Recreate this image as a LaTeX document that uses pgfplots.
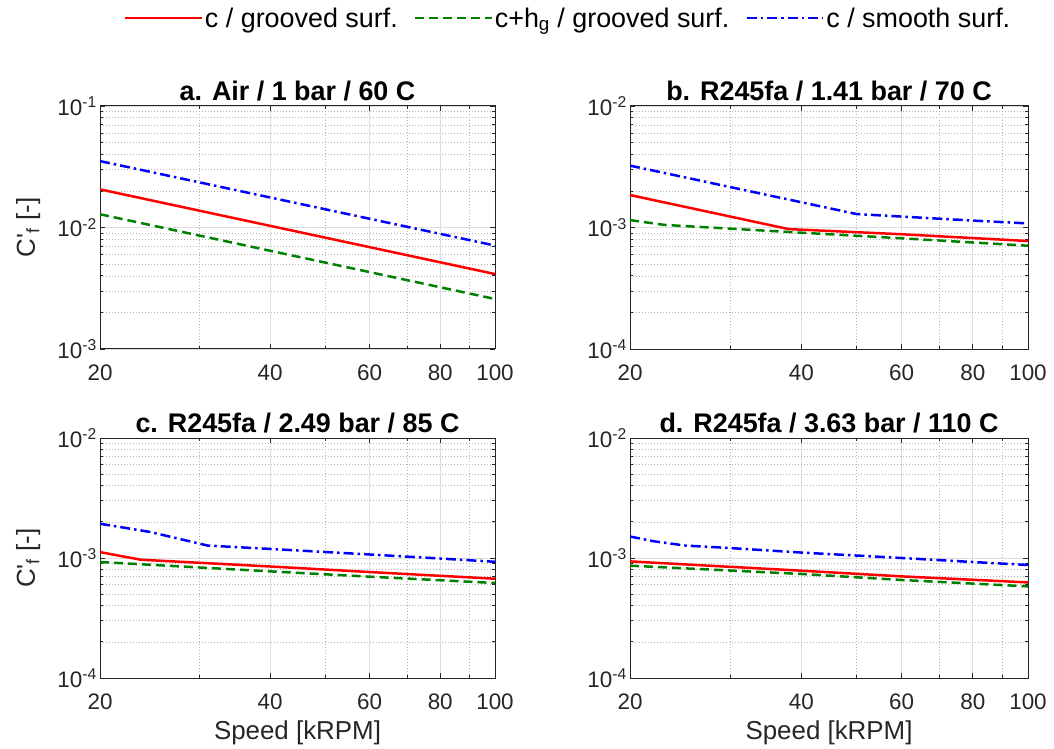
\documentclass[border=0pt]{standalone}
\usepackage{fontspec}
\setmainfont{Liberation Sans}
\usepackage{pgfplots}
\pgfplotsset{compat=1.18}
\definecolor{axgray}{HTML}{262626}
\definecolor{mgreen}{rgb}{0,0.5,0}
\pgfplotsset{every axis/.append style={
    scale only axis,
    xmin=20, xmax=100,
    xtick={20,40,60,80,100}, xticklabels={20,40,60,80,100},
    minor xtick={30,50,70,90},
    grid=both,
    major grid style={black!13, line width=0.8bp},
    minor grid style={black!30, line width=0.6bp, dash pattern=on 0.8bp off 2.2bp},
    axis line style={axgray, line width=1bp},
    tick style={axgray, line width=0.8bp},
    major tick length=5bp, minor tick length=3bp,
    tick align=inside,
    ticklabel style={font=\fontsize{22.5}{24}\selectfont, text=axgray, inner sep=0pt},
    xticklabel style={anchor=base, yshift=-31bp},
    yticklabel style={anchor=east, xshift=-3bp},
    title style={font=\fontsize{27}{30}\selectfont\bfseries, anchor=base, yshift=0bp, inner sep=0pt},
    label style={font=\fontsize{26}{28}\selectfont, text=axgray, inner sep=0pt},
    xlabel style={at={(axis description cs:0.5,-0.258)}, anchor=base},
    ylabel style={at={(axis description cs:-0.165,0.5)}, anchor=base},
}}
\tikzset{
  sred/.style={red, line width=2.5bp, solid},
  sgreen/.style={mgreen, line width=2.5bp, dash pattern=on 9bp off 5bp},
  sblue/.style={blue, line width=2.5bp, dash pattern=on 10bp off 4bp on 2.5bp off 4bp},
}
\begin{document}
\begin{tikzpicture}
\path[use as bounding box] (0,0) rectangle (1054bp,749bp);

% ---------- a ----------
\begin{loglogaxis}[at={(100bp,400bp)}, anchor=south west,
  width=395bp, height=243bp,
  ymin=1e-3, ymax=1e-1, ytick={1e-3,1e-2,1e-1},
  yticklabels={10\textsuperscript{-3},10\textsuperscript{-2},10\textsuperscript{-1}},
  minor ytick={2e-3,3e-3,4e-3,5e-3,6e-3,7e-3,8e-3,9e-3,2e-2,3e-2,4e-2,5e-2,6e-2,7e-2,8e-2,9e-2},
  title={a. Air / 1 bar / 60 C},
  ylabel={C\textquotesingle\textsubscript{f} [-]},
  legend style={at={(1.185,1.362)}, anchor=center, draw=none, fill=none,
    legend columns=3, font=\fontsize{27}{29}\selectfont,
    /tikz/every even column/.append style={column sep=14bp}},
  legend image post style={xscale=4.5},
]
\addplot[sred] coordinates {(20,0.0206) (100,0.00414)};
\addlegendentry{c / grooved surf.}
\addplot[sgreen] coordinates {(20,0.01285) (100,0.00258)};
\addlegendentry{c+h\textsubscript{g} / grooved surf.}
\addplot[sblue] coordinates {(20,0.0352) (100,0.0071)};
\addlegendentry{c / smooth surf.}
\end{loglogaxis}

% ---------- b ----------
\begin{loglogaxis}[at={(630bp,400bp)}, anchor=south west,
  width=398bp, height=243bp,
  ymin=1e-4, ymax=1e-2, ytick={1e-4,1e-3,1e-2},
  yticklabels={10\textsuperscript{-4},10\textsuperscript{-3},10\textsuperscript{-2}},
  minor ytick={2e-4,3e-4,4e-4,5e-4,6e-4,7e-4,8e-4,9e-4,2e-3,3e-3,4e-3,5e-3,6e-3,7e-3,8e-3,9e-3},
  title={b. R245fa / 1.41 bar / 70 C},
]
\addplot[sred] coordinates {(20,1.85e-3) (38,0.97e-3) (60,0.88e-3) (100,0.774e-3)};
\addplot[sgreen] coordinates {(20,1.15e-3) (23,1.05e-3) (40,0.906e-3) (60,0.815e-3) (100,0.708e-3)};
\addplot[sblue] coordinates {(20,3.23e-3) (50,1.29e-3) (60,1.23e-3) (80,1.14e-3) (100,1.08e-3)};
\end{loglogaxis}

% ---------- c ----------
\begin{loglogaxis}[at={(100bp,71bp)}, anchor=south west,
  width=395bp, height=240bp,
  ymin=1e-4, ymax=1e-2, ytick={1e-4,1e-3,1e-2},
  yticklabels={10\textsuperscript{-4},10\textsuperscript{-3},10\textsuperscript{-2}},
  minor ytick={2e-4,3e-4,4e-4,5e-4,6e-4,7e-4,8e-4,9e-4,2e-3,3e-3,4e-3,5e-3,6e-3,7e-3,8e-3,9e-3},
  title={c. R245fa / 2.49 bar / 85 C},
  ylabel={C\textquotesingle\textsubscript{f} [-]},
  xlabel={Speed [kRPM]},
]
\addplot[sred] coordinates {(20,1.12e-3) (23.6,0.968e-3) (40,0.85e-3) (60,0.764e-3) (100,0.672e-3)};
\addplot[sgreen] coordinates {(20,0.926e-3) (40,0.774e-3) (60,0.699e-3) (100,0.619e-3)};
\addplot[sblue] coordinates {(20,1.93e-3) (24.5,1.65e-3) (31,1.27e-3) (40,1.19e-3) (60,1.07e-3) (80,0.99e-3) (100,0.93e-3)};
\end{loglogaxis}

% ---------- d ----------
\begin{loglogaxis}[at={(630bp,71bp)}, anchor=south west,
  width=398bp, height=240bp,
  ymin=1e-4, ymax=1e-2, ytick={1e-4,1e-3,1e-2},
  yticklabels={10\textsuperscript{-4},10\textsuperscript{-3},10\textsuperscript{-2}},
  minor ytick={2e-4,3e-4,4e-4,5e-4,6e-4,7e-4,8e-4,9e-4,2e-3,3e-3,4e-3,5e-3,6e-3,7e-3,8e-3,9e-3},
  title={d. R245fa / 3.63 bar / 110 C},
  xlabel={Speed [kRPM]},
]
\addplot[sred] coordinates {(20,0.937e-3) (40,0.784e-3) (60,0.703e-3) (100,0.626e-3)};
\addplot[sgreen] coordinates {(20,0.863e-3) (40,0.736e-3) (60,0.656e-3) (100,0.58e-3)};
\addplot[sblue] coordinates {(20,1.51e-3) (22,1.38e-3) (25,1.27e-3) (30,1.21e-3) (40,1.11e-3) (60,1.0e-3) (80,0.926e-3) (100,0.875e-3)};
\end{loglogaxis}
\end{tikzpicture}
\end{document}
